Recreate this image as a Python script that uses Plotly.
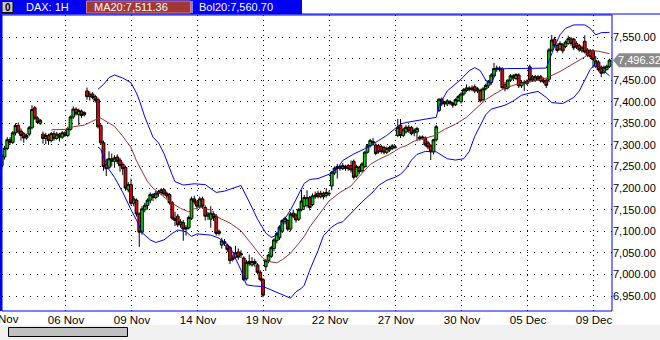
import plotly.graph_objects as go

# ---------------- data (DAX 1H) ----------------
bar_idx = list(range(1, 223))
opens = [7252,7272,7292,7312,7306,7328,7345,7332,7326,7316,7325,7340,7386,7362,7350,
         7325,7315,7322,7310,7326,7315,7325,7318,7328,7322,7336,7365,7383,7370,7378,7370,
         7425,7412,7418,7412,7405,7345,7305,7255,7248,7268,7262,7272,7265,7255,7248,7196,
         7208,7165,7172,7140,7098,7150,7160,7172,7185,7178,7188,7190,7196,7188,7185,7166,
         7130,7135,7115,7120,7105,7108,7130,7175,7168,7158,7175,7155,7135,7128,7140,7135,
         7095,7068,7076,7068,7062,7040,7040,7052,7045,7038,6990,7030,7022,7030,7022,7005,
         6988,7018,7032,7042,7060,7078,7085,7100,7122,7125,7105,7142,7138,7128,7150,7158,
         7160,7178,7162,7180,7188,7180,7188,7183,7188,7205,7235,7245,7250,7245,7250,7252,
         7252,7262,7228,7248,7240,7250,7283,7298,7308,7300,7298,7296,7294,7283,7288,7292,
         7296,7322,7345,7322,7330,7341,7340,7328,7330,7318,7316,7316,7305,7298,7284,7312,
         7380,7406,7395,7395,7400,7397,7393,7403,7400,7418,7426,7432,7428,7435,7425,7426,
         7405,7430,7437,7445,7460,7475,7478,7476,7440,7432,7450,7460,7454,7462,7437,7445,
         7442,7481,7458,7450,7458,7458,7450,7450,7452,7520,7545,7530,7522,7532,7528,7535,
         7546,7545,7535,7530,7518,7540,7520,7518,7518,7482,7492,7480,7468,7475,7482]
highs = [7280,7298,7318,7318,7332,7350,7352,7338,7330,7326,7344,7392,7390,7366,7360,
         7331,7328,7326,7330,7332,7330,7328,7332,7332,7342,7368,7389,7387,7384,7382,7378,
         7433,7424,7422,7416,7410,7350,7310,7268,7285,7280,7276,7278,7270,7260,7252,7214,
         7222,7182,7176,7144,7158,7166,7176,7190,7188,7194,7196,7200,7199,7192,7188,7170,
         7145,7140,7128,7126,7114,7136,7180,7182,7172,7180,7180,7160,7145,7158,7146,7140,
         7104,7085,7082,7072,7066,7046,7066,7060,7056,7042,7034,7046,7040,7036,7026,7010,
         6992,7036,7048,7066,7084,7098,7114,7128,7134,7128,7144,7150,7142,7154,7196,7184,
         7195,7182,7188,7192,7194,7194,7192,7200,7194,7240,7250,7256,7254,7258,7254,7256,
         7264,7266,7254,7252,7260,7286,7302,7314,7316,7304,7302,7300,7298,7296,7298,7302,
         7300,7360,7360,7340,7346,7346,7344,7338,7342,7322,7322,7320,7310,7302,7314,7346,
         7408,7410,7402,7406,7404,7400,7408,7416,7422,7432,7440,7436,7438,7440,7434,7430,
         7434,7442,7450,7466,7490,7484,7482,7480,7446,7452,7464,7464,7466,7466,7450,7450,
         7452,7486,7462,7462,7462,7462,7456,7454,7524,7555,7550,7535,7540,7536,7542,7553,
         7550,7548,7540,7534,7530,7554,7524,7522,7522,7506,7496,7484,7484,7486,7500]
lows = [7245,7266,7288,7300,7302,7322,7326,7310,7305,7312,7320,7336,7358,7348,7346,
        7303,7302,7300,7306,7310,7312,7308,7314,7318,7318,7333,7360,7368,7346,7362,7366,
        7405,7403,7406,7398,7338,7300,7240,7228,7244,7250,7247,7256,7238,7230,7194,7190,
        7160,7158,7134,7064,7092,7144,7150,7165,7170,7174,7180,7184,7182,7176,7162,7126,
        7112,7110,7108,7078,7090,7104,7126,7162,7150,7152,7152,7125,7126,7108,7124,7090,
        7090,7060,7066,7052,7024,7030,7036,7034,7038,6984,6986,7020,7018,7018,7000,6984,
        6947,7008,7026,7038,7054,7072,7080,7096,7116,7100,7100,7130,7120,7124,7146,7150,
        7155,7148,7158,7175,7176,7176,7174,7178,7182,7195,7230,7222,7240,7242,7240,7240,
        7236,7220,7224,7232,7236,7246,7280,7294,7298,7276,7280,7280,7278,7279,7284,7288,
        7290,7318,7316,7318,7326,7328,7322,7320,7310,7310,7312,7296,7290,7265,7278,7308,
        7376,7390,7388,7390,7392,7386,7390,7400,7396,7414,7422,7424,7424,7420,7420,7398,
        7400,7426,7432,7440,7456,7470,7470,7430,7424,7428,7446,7450,7450,7432,7432,7425,
        7438,7446,7446,7446,7448,7444,7442,7432,7445,7516,7526,7514,7518,7512,7524,7532,
        7530,7520,7522,7516,7514,7512,7504,7500,7478,7478,7470,7457,7464,7472,7478]
closes = [7275,7292,7312,7306,7328,7345,7330,7322,7316,7322,7340,7382,7362,7352,7357,
          7315,7322,7310,7326,7315,7325,7318,7328,7322,7338,7365,7383,7372,7380,7368,7375,
          7412,7418,7410,7403,7342,7305,7250,7245,7268,7262,7270,7262,7252,7245,7200,7208,
          7165,7175,7140,7098,7152,7160,7172,7185,7178,7188,7192,7196,7186,7182,7166,7130,
          7125,7115,7122,7105,7108,7132,7175,7168,7158,7175,7158,7135,7140,7142,7132,7095,
          7100,7078,7072,7058,7032,7035,7050,7040,7048,6988,7028,7025,7030,7025,7005,6988,
          6952,7032,7045,7062,7080,7095,7110,7125,7130,7105,7140,7135,7126,7150,7170,7178,
          7178,7155,7182,7184,7180,7188,7180,7190,7187,7237,7246,7250,7246,7252,7246,7245,
          7242,7225,7250,7238,7256,7283,7298,7310,7305,7280,7284,7285,7283,7292,7294,7298,
          7294,7341,7322,7335,7341,7333,7326,7334,7338,7315,7318,7300,7295,7284,7312,7342,
          7406,7395,7398,7402,7397,7392,7405,7412,7418,7428,7432,7428,7432,7425,7430,7402,
          7430,7438,7448,7462,7477,7478,7476,7433,7430,7450,7460,7455,7463,7437,7445,7442,
          7448,7450,7450,7458,7452,7448,7446,7438,7520,7543,7530,7519,7535,7518,7538,7546,
          7535,7525,7527,7520,7525,7515,7508,7505,7498,7495,7474,7466,7480,7482,7496.32]

ma_idx = [19,24,27,31,35,36,37,39,42,45,48,50,52,54,56,59,62,66,69,71,73,77,80,84,88,91,
          94,96,98,101,103,106,109,111,113,117,120,124,128,131,135,138,142,146,148,151,155,
          158,162,166,170,173,177,180,184,188,191,196,199,204,209,213,216,218,222]
ma_val = [7335,7336,7342,7346,7358,7362,7362,7355,7343,7320,7294,7263,7238,7215,7200,7185,
          7169,7153,7145,7152,7156,7149,7131,7119,7101,7077,7053,7037,7030,7027,7034,7049,
          7072,7088,7110,7143,7170,7190,7205,7227,7255,7266,7278,7294,7298,7309,7316,7321,
          7336,7348,7364,7382,7405,7417,7432,7440,7443,7450,7455,7470,7488,7504,7518,7517,
          7511.36]

up_idx = [36,38,40,42,45,48,50,51,53,56,58,60,63,64,67,71,75,78,79,82,85,88,91,94,97,99,
          101,103,106,109,111,113,116,120,123,125,129,133,135,138,141,144,146,148,152,155,
          159,160,163,168,171,173,175,177,179,181,185,190,195,199,200,202,204,206,209,213,
          215,217,219,222]
bb_up = [7429,7440,7456,7462,7455,7444,7420,7404,7365,7318,7305,7280,7230,7215,7207,7210,
         7208,7196,7190,7193,7199,7206,7168,7128,7096,7086,7091,7120,7149,7188,7211,7220,
         7222,7232,7245,7264,7279,7291,7298,7310,7322,7337,7348,7352,7357,7360,7364,7391,
         7425,7452,7472,7479,7472,7450,7440,7475,7477,7477,7477,7478,7495,7528,7555,7570,
         7578,7578,7570,7555,7560,7560.70]

lo_idx = [36,37,38,40,42,45,48,50,52,55,57,60,63,65,68,70,72,75,77,80,84,88,90,93,96,99,
          102,106,108,110,111,113,116,118,121,123,125,129,132,136,138,141,144,146,148,150,
          152,155,159,163,166,169,171,173,175,177,179,181,184,187,190,193,196,199,201,205,
          209,211,213,215,217,219,222]
bb_lo = [7295,7290,7272,7243,7225,7190,7150,7126,7097,7080,7074,7080,7095,7103,7099,7088,
         7094,7093,7091,7084,7064,7010,6976,6973,6972,6964,6956,6945,6960,6968,6975,7010,
         7055,7090,7110,7118,7122,7149,7168,7191,7206,7218,7225,7232,7245,7265,7278,7285,
         7284,7268,7265,7268,7285,7320,7345,7370,7383,7386,7392,7402,7415,7420,7424,7410,
         7398,7396,7410,7425,7450,7475,7489,7477,7460]

day_pos = [0.36, 24.36, 48.36, 72.36, 96.36, 120.36, 144.36, 168.36, 192.36, 216.36]
day_lbl = ["02 Nov", "06 Nov", "09 Nov", "14 Nov", "19 Nov", "22 Nov", "27 Nov",
           "30 Nov", "05 Dec", "09 Dec"]
price_ticks = [6950, 7000, 7050, 7100, 7150, 7200, 7250, 7300, 7350, 7400, 7450, 7500, 7550]

header_sym = "DAX: 1H"
ma_label = "MA20:7,511.36"
bol_label = "Bol20:7,560.70"

# ---------------- layout geometry ----------------
W, H = 660, 340
L, R, T, B = 2, 48, 15, 29
PW, PH = W - L - R, H - T - B


def px(x):
    return (x - L) / PW


def py(y):
    return (H - B - y) / PH


X0 = (L + 1) / 2.75
X1 = X0 + PW / 2.75
Y_TOP = 7550 + (37 - T) / 0.4317
Y_BOT = 7550 - (H - B - 37) / 0.4317

FONT = "Liberation Sans, Arial, sans-serif"
BLUE = "#0000F5"

last = closes[-1]
# tick label hidden under the current-price marker is left blank
price_text = ["" if abs(v - last) < 20 else f"{v:,.2f}" for v in price_ticks]

fig = go.Figure()
fig.add_trace(go.Candlestick(
    x=bar_idx, open=opens, high=highs, low=lows, close=closes,
    increasing=dict(line=dict(color="#000000", width=1), fillcolor="#00D000"),
    decreasing=dict(line=dict(color="#000000", width=1), fillcolor="#F00000"),
    whiskerwidth=0, hoverinfo="skip", showlegend=False,
))
fig.add_trace(go.Scatter(x=ma_idx, y=ma_val, mode="lines",
                         line=dict(color="#993333", width=1), hoverinfo="skip",
                         showlegend=False))
fig.add_trace(go.Scatter(x=up_idx, y=bb_up, mode="lines",
                         line=dict(color=BLUE, width=1), hoverinfo="skip",
                         showlegend=False))
fig.add_trace(go.Scatter(x=lo_idx, y=bb_lo, mode="lines",
                         line=dict(color=BLUE, width=1), hoverinfo="skip",
                         showlegend=False))

shapes = []
# plot frame
shapes.append(dict(type="rect", xref="paper", yref="paper", x0=0, x1=1, y0=0, y1=1,
                   line=dict(color=BLUE, width=1), fillcolor="rgba(0,0,0,0)", layer="above"))
shapes.append(dict(type="line", xref="paper", yref="paper", x0=px(1), x1=px(1), y0=0, y1=py(0),
                   line=dict(color=BLUE, width=2), layer="above"))
# header
shapes.append(dict(type="rect", xref="paper", yref="paper", x0=px(0), x1=px(302), y0=py(14), y1=py(0),
                   line=dict(width=0), fillcolor=BLUE, layer="below"))
shapes.append(dict(type="line", xref="paper", yref="paper", x0=px(0), x1=px(660), y0=py(14), y1=py(14),
                   line=dict(color=BLUE, width=1), layer="below"))
shapes.append(dict(type="rect", xref="paper", yref="paper", x0=px(2), x1=px(13), y0=py(12.5), y1=py(1.5),
                   line=dict(color="#000000", width=1), fillcolor="#C8C8C8", layer="below"))
shapes.append(dict(type="rect", xref="paper", yref="paper", x0=px(86.5), x1=px(190.5), y0=py(13), y1=py(1),
                   line=dict(color="#D08080", width=1), fillcolor="#A03838", layer="below"))
shapes.append(dict(type="line", xref="paper", yref="paper", x0=px(192), x1=px(192), y0=py(13), y1=py(1),
                   line=dict(color="#FFFFFF", width=1), layer="below"))
# scrollbar area
shapes.append(dict(type="rect", xref="paper", yref="paper", x0=px(0), x1=px(660), y0=py(340), y1=py(325),
                   line=dict(width=0), fillcolor="#F0F0F0", layer="below"))
shapes.append(dict(type="rect", xref="paper", yref="paper", x0=px(8.5), x1=px(127.5), y0=py(336.5), y1=py(327.5),
                   line=dict(color="#000000", width=1), fillcolor="#C0C0C0", layer="below"))
# current price marker (arrow box)
hh = 7.0 / 0.4317
shapes.append(dict(type="path", xref="paper", yref="y",
                   path=f"M {px(613)},{last} L {px(619)},{last + hh} L {px(660)},{last + hh} "
                        f"L {px(660)},{last - hh} L {px(619)},{last - hh} Z",
                   line=dict(width=0), fillcolor="#8A8A8A", layer="below"))

ann = [
    dict(x=px(7.5), y=py(7), xref="paper", yref="paper", text="<b>0</b>", showarrow=False,
         xanchor="center", yanchor="middle",
         font=dict(family=FONT, size=10, color="#000000")),
    dict(x=px(24), y=py(7.5), xref="paper", yref="paper", text=header_sym, showarrow=False,
         xanchor="left", yanchor="middle", font=dict(family=FONT, size=11, color="#FFFFFF")),
    dict(x=px(92), y=py(7.5), xref="paper", yref="paper", text=ma_label, showarrow=False,
         xanchor="left", yanchor="middle", font=dict(family=FONT, size=11, color="#FFFFFF")),
    dict(x=px(197), y=py(7.5), xref="paper", yref="paper", text=bol_label, showarrow=False,
         xanchor="left", yanchor="middle", font=dict(family=FONT, size=11, color="#FFFFFF")),
    dict(x=px(616), y=last, xref="paper", yref="y", text=f"{last:,.2f}", showarrow=False,
         xanchor="left", yanchor="middle", font=dict(family=FONT, size=11, color="#FFFFFF")),
    dict(x=px(0), y=py(318.5), xref="paper", yref="paper", text=day_lbl[0], showarrow=False,
         xanchor="center", yanchor="middle", font=dict(family=FONT, size=11.5, color="#000000")),
]

fig.update_layout(
    width=W, height=H, margin=dict(l=L, r=R, t=T, b=B, pad=0),
    paper_bgcolor="#FFFFFF", plot_bgcolor="#FFFFFF",
    shapes=shapes, annotations=ann, boxgap=0, boxgroupgap=0,
    font=dict(family=FONT, size=11, color="#000000"),
    xaxis=dict(range=[X0, X1], tickmode="array", tickvals=day_pos[1:], ticktext=day_lbl[1:],
               showgrid=True, gridcolor="#000000", gridwidth=1, griddash="1px,4px",
               zeroline=False, showline=False, ticks="", rangeslider=dict(visible=False),
               tickfont=dict(family=FONT, size=11.5, color="#000000")),
    yaxis=dict(range=[Y_BOT, Y_TOP], side="right", tickmode="array", tickvals=price_ticks,
               ticktext=price_text, showgrid=True, gridcolor="#000000", gridwidth=1,
               griddash="1px,6px", zeroline=False, showline=False, ticks="",
               tickfont=dict(family=FONT, size=11, color="#000000")),
)

fig.write_html("out.html")
